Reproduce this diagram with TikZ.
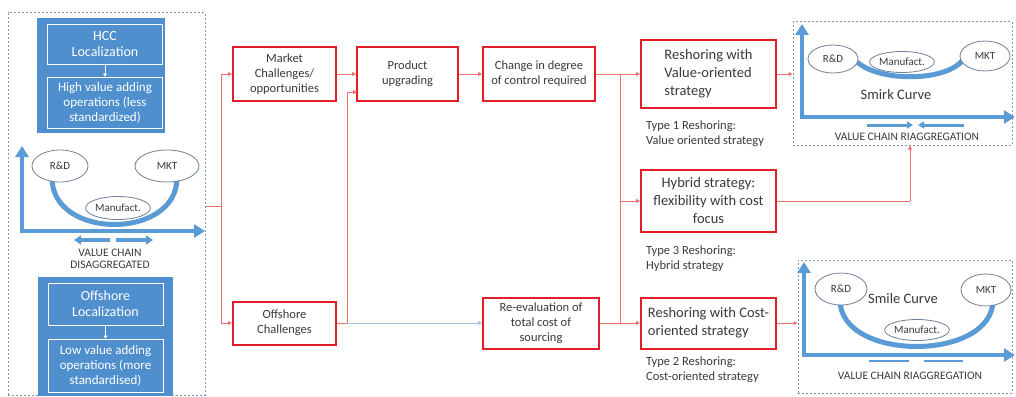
\documentclass[tikz,border=0pt]{standalone}
\usepackage{fontspec}
\setmainfont{Carlito}
\usetikzlibrary{arrows.meta,shapes.geometric}
\definecolor{boxred}{HTML}{E41E26}
\definecolor{linered}{HTML}{F07070}
\definecolor{bfill}{HTML}{4F8FCD}
\definecolor{axisc}{HTML}{5B9BD5}
\definecolor{dotc}{HTML}{7F93B5}
\definecolor{ell}{HTML}{6F7F95}
\definecolor{txt}{HTML}{3A3A3A}
\definecolor{lblue}{HTML}{A9C4E0}
\tikzset{
  rbox/.style={draw=boxred, line width=2pt, fill=white, text=txt, align=center, inner sep=2pt, font=\fontsize{12.5}{15}\selectfont},
  rsbox/.style={draw=boxred, line width=2pt, fill=white, text=txt, inner sep=2pt, font=\fontsize{14.5}{18}\selectfont},
  dbox/.style={draw=dotc, line width=1pt, dash pattern=on 2pt off 2pt},
  bouter/.style={fill=bfill, draw=none},
  binner/.style={draw=white, line width=0.9pt, text=white, align=center},
  conn/.style={draw=linered, line width=0.8pt},
  tip/.style={-{Triangle[length=4pt,width=4pt]}},
  axisline/.style={draw=axisc, line width=4pt, -{Triangle[length=11pt,width=13pt]}},
  curve/.style={draw=axisc, line width=5pt},
  ellnode/.style={draw=ell, line width=0.8pt, ellipse, fill=white, text=txt, inner sep=0pt, font=\fontsize{11}{13}\selectfont},
  typelbl/.style={text=txt, align=left, anchor=north west, inner sep=0pt, font=\fontsize{12.5}{14.5}\selectfont},
  vclbl/.style={text=txt, align=center, inner sep=0pt, font=\fontsize{11.5}{12.5}\selectfont},
  smallarr/.style={draw=axisc, line width=4pt, -{Triangle[length=7pt,width=9pt]}},
  thinarr/.style={draw=axisc, line width=3pt, -{Triangle[length=6pt,width=7pt]}},
}
\begin{document}
\begin{tikzpicture}[x=1pt,y=-1pt]
\useasboundingbox (0,0) rectangle (1016,396);

% ---------- left dashed panel ----------
\node[dbox, minimum width=197pt, minimum height=382pt] (leftbox) at (106.5,204) {};
\node[bouter, minimum width=128pt, minimum height=115pt] (hccbg) at (101,75.5) {};
\node[binner, minimum width=115pt, minimum height=40pt, font=\fontsize{14}{16}\selectfont] (hcc) at (105,44) {HCC\\Localization};
\node[binner, minimum width=115pt, minimum height=51pt, font=\fontsize{13}{15}\selectfont] (hv) at (105,102.5) {High value adding\\operations (less\\standardized)};
\draw[white, line width=0.8pt, -{Triangle[length=3pt,width=4pt]}] (hcc) -- (hv);

\node[bouter, minimum width=135pt, minimum height=119pt] (offbg) at (105.5,336.5) {};
\node[binner, minimum width=115pt, minimum height=42pt, font=\fontsize{14}{16}\selectfont] (offl) at (105.5,304) {Offshore\\Localization};
\node[binner, minimum width=115pt, minimum height=53pt, font=\fontsize{13}{15}\selectfont] (lv) at (105.5,365.5) {Low value adding\\operations (more\\standardised)};
\draw[white, line width=0.8pt, -{Triangle[length=3pt,width=4pt]}] (offl) -- (lv);

% left value chain
\draw[curve] (52,178) .. controls (52,240) and (177,240) .. (177,178);
\node[ellnode, minimum width=56pt, minimum height=32pt] (rd1) at (60,166) {R\&D};
\node[ellnode, minimum width=64pt, minimum height=32pt] (mkt1) at (167,166) {MKT};
\node[ellnode, minimum width=58pt, minimum height=23pt] (mf1) at (118,208) {Manufact.};
\draw[axisline] (22,233) -- (22,146);
\draw[axisline] (20,231) -- (205,231);
\draw[smallarr] (110,240) -- (74,240);
\draw[smallarr] (116,240) -- (153,240);
\node[vclbl] (vcd) at (110,259) {VALUE CHAIN\\DISAGGREGATED};

% ---------- red process boxes ----------
\node[rbox, minimum width=103pt, minimum height=53pt] (mc) at (284.5,74) {Market\\Challenges/\\opportunities};
\node[rbox, minimum width=101pt, minimum height=53pt] (pu) at (407.5,74) {Product\\upgrading};
\node[rbox, minimum width=112pt, minimum height=53pt] (ch) at (539,74) {Change in degree\\of control required};
\node[rbox, minimum width=103pt, minimum height=43pt] (oc) at (284.5,323) {Offshore\\Challenges};
\node[rbox, minimum width=116pt, minimum height=51pt] (re) at (541,323) {Re-evaluation of\\total cost of\\sourcing};

\node[rsbox, align=left, minimum width=135pt, minimum height=68pt] (vr) at (708.5,74) {Reshoring with\\Value-oriented\\strategy};
\node[rsbox, align=center, minimum width=135pt, minimum height=62pt] (hy) at (708.5,201) {Hybrid strategy:\\flexibility with cost\\focus};
\node[rsbox, align=left, minimum width=135pt, minimum height=51pt] (co) at (708.5,323) {Reshoring with Cost-\\oriented strategy};

\node[typelbl] (t1) at (646,121) {Type 1 Reshoring:\\Value oriented strategy};
\node[typelbl] (t3) at (646,246) {Type 3 Reshoring:\\Hybrid strategy};
\node[typelbl] (t2) at (646,357) {Type 2 Reshoring:\\Cost-oriented strategy};

% ---------- connectors ----------
\coordinate (lj) at (221,206);
\draw[conn] (leftbox.east |- lj) -- (lj);
\draw[conn, tip] (lj) |- (mc.west);
\draw[conn, tip] (lj) |- (oc.west);
\draw[conn, tip] (mc) -- (pu);
\coordinate (oj) at (347,323);
\coordinate (pin) at (357,92);
\draw[conn] (oc.east) -- (oj);
\draw[conn, tip] (oj) |- (pin);
\draw[draw=lblue, line width=0.8pt, tip] (oj) -- (re.west);
\draw[conn, tip] (pu) -- (ch);
\coordinate (rj) at (620,74);
\coordinate (rj2) at (620,323);
\draw[conn, tip] (ch) -- (vr);
\draw[conn] (rj) -- (rj2);
\draw[conn, tip] (rj |- hy) -- (hy.west);
\draw[conn, tip] (re) -- (co);

% ---------- top right panel ----------
\node[dbox, minimum width=219pt, minimum height=123pt] (tr) at (902.5,83.5) {};
\draw[curve] (857,62) .. controls (880,82) and (945,82) .. (963,60);
\node[ellnode, minimum width=50pt, minimum height=28pt] (rd2) at (833,59) {R\&D};
\node[ellnode, minimum width=56pt, minimum height=21pt] (mf2) at (902,62) {Manufact.};
\node[ellnode, minimum width=50pt, minimum height=30pt] (mkt2) at (985,56) {MKT};
\draw[axisline] (802,119) -- (802,24);
\draw[axisline] (800,117) -- (1015,117);
\draw[thinarr] (867,125) -- (913,125);
\draw[thinarr] (964,125) -- (918,125);
\node[text=txt, font=\fontsize{14.5}{16}\selectfont, inner sep=0pt] (smirk) at (896,95) {Smirk Curve};
\node[vclbl] (vc1) at (907,137) {VALUE CHAIN RIAGGREGATION};

% ---------- bottom right panel ----------
\node[dbox, minimum width=214pt, minimum height=133pt] (br) at (905,326.5) {};
\draw[curve] (840,300) .. controls (840,362) and (993,362) .. (993,300);
\node[ellnode, minimum width=52pt, minimum height=32pt] (rd3) at (841,289) {R\&D};
\node[ellnode, minimum width=50pt, minimum height=32pt] (mkt3) at (986,290) {MKT};
\node[ellnode, minimum width=60pt, minimum height=21pt] (mf3) at (917,330) {Manufact.};
\draw[axisline] (804,357) -- (804,262);
\draw[axisline] (802,355) -- (1015,355);
\draw[draw=axisc, line width=2.5pt] (869,361) -- (909,361);
\draw[draw=axisc, line width=2.5pt] (924,361) -- (963,361);
\node[text=txt, font=\fontsize{14.5}{16}\selectfont, inner sep=0pt] (smile) at (903,299) {Smile Curve};
\node[vclbl] (vc2) at (910,376) {VALUE CHAIN RIAGGREGATION};

% connectors to panels
\draw[conn, tip] (vr.east) -- (vr.east -| tr.west);
\coordinate (hj) at (910,201);
\draw[conn] (hy.east) -- (hj);
\draw[conn, tip] (hj) -- (hj |- tr.south);
\draw[conn, tip] (co.east) -- (co.east -| br.west);
\end{tikzpicture}
\end{document}
